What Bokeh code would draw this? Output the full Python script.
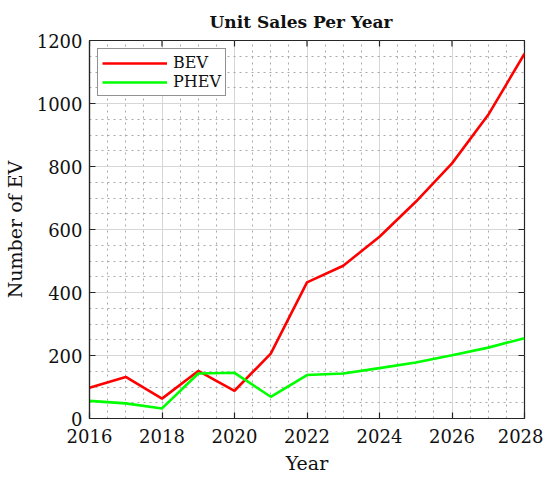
import numpy as np
from bokeh.plotting import figure
from bokeh.models import (LinearAxis, SingleIntervalTicker, Range1d, Legend,
                          LegendItem, Title)
from bokeh.embed import file_html
from bokeh.resources import INLINE

# yearly unit sales
years = [2016, 2017, 2018, 2019, 2020, 2021, 2022, 2023, 2024, 2025, 2026, 2027, 2028]
bev = [98, 132, 63, 151, 88, 206, 432, 485, 577, 688, 810, 964, 1158]
phev = [56, 48, 32, 143, 145, 69, 138, 143, 160, 178, 201, 225, 255]

x_ticks = [2016, 2018, 2020, 2022, 2024, 2026, 2028]
y_ticks = [0, 200, 400, 600, 800, 1000, 1200]

FONT = "DejaVu Serif"
AXIS_COLOR = "#262626"

p = figure(width=534, height=465, output_backend="svg", toolbar_location=None,
           x_range=Range1d(x_ticks[0], x_ticks[-1]), y_range=Range1d(y_ticks[0], y_ticks[-1]),
           frame_width=435, frame_height=378,
           min_border_left=10, min_border_right=19, min_border_top=32,
           min_border_bottom=10, x_axis_location=None, y_axis_location=None,
           outline_line_color=AXIS_COLOR, outline_line_width=1.2)

p.add_layout(Title(text="Unit Sales Per Year", align="left", offset=120,
                   text_font=FONT, text_font_size="17px", text_font_style="bold",
                   text_color="#111111", standoff=18), "above")

xtick = SingleIntervalTicker(interval=2, num_minor_ticks=4)
ytick = SingleIntervalTicker(interval=200, num_minor_ticks=4)

def style_axis(ax):
    ax.axis_line_color = AXIS_COLOR
    ax.axis_line_width = 1.2
    ax.major_tick_in = 6
    ax.major_tick_out = 0
    ax.major_tick_line_color = AXIS_COLOR
    ax.major_tick_line_width = 1.2
    ax.minor_tick_line_color = None
    ax.major_label_text_font = FONT
    ax.major_label_text_font_size = "18px"
    ax.major_label_text_color = "#111111"
    ax.axis_label_text_font = FONT
    ax.axis_label_text_font_size = "19px"
    ax.axis_label_text_font_style = "normal"
    ax.axis_label_text_color = "#111111"

xb = LinearAxis(ticker=xtick, axis_label="Year", major_label_standoff=6,
                axis_label_standoff=6)
yl = LinearAxis(ticker=ytick, axis_label="Number of EV", major_label_standoff=3,
                axis_label_standoff=8)
style_axis(xb)
style_axis(yl)
p.add_layout(xb, "below")
p.add_layout(yl, "left")

# inward ticks on the top and right edges (half of each dash is clipped by the frame)
p.scatter(x_ticks, [y_ticks[-1]] * len(x_ticks), marker="dash", size=12,
          angle=np.pi / 2, line_color=AXIS_COLOR, line_width=1.2)
p.scatter([x_ticks[-1]] * len(y_ticks), y_ticks, marker="dash", size=12,
          line_color=AXIS_COLOR, line_width=1.2)

p.xgrid.ticker = xtick
p.ygrid.ticker = ytick
for g in (p.xgrid, p.ygrid):
    g.grid_line_color = "#d6d6d6"
    g.grid_line_width = 1
    g.minor_grid_line_color = "#a8a8a8"
    g.minor_grid_line_dash = "2 4"
    g.minor_grid_line_width = 1

r1 = p.line(years, bev, line_color="#ff0000", line_width=2.6)
r2 = p.line(years, phev, line_color="#00ff00", line_width=2.6)

legend = Legend(items=[LegendItem(label="BEV", renderers=[r1]),
                       LegendItem(label="PHEV", renderers=[r2])],
                location="top_left", glyph_width=65, glyph_height=18,
                label_text_font=FONT, label_text_font_size="16px",
                label_text_color="#111111", border_line_color=AXIS_COLOR,
                border_line_width=1.2, padding=4, spacing=0, margin=8,
                label_standoff=6, background_fill_alpha=1)
p.add_layout(legend)

open("out.html", "w").write(file_html(p, INLINE))
